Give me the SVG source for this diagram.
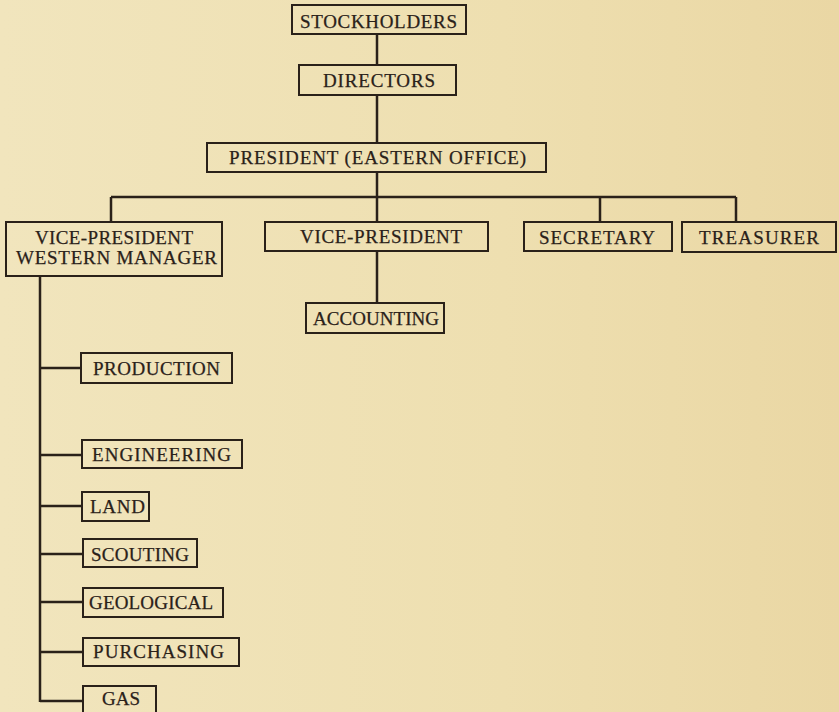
<svg xmlns="http://www.w3.org/2000/svg" width="839" height="712" viewBox="0 0 839 712">
<defs>
<linearGradient id="bg" x1="0" y1="0" x2="1" y2="0">
<stop offset="0" stop-color="#F1E5BD"/>
<stop offset="0.6" stop-color="#EEDFB0"/>
<stop offset="1" stop-color="#EAD7A4"/>
</linearGradient>
<style>
.box{fill:none;stroke:#2a2119;stroke-width:2}
.t{font-family:"Liberation Serif","Times New Roman",serif;font-size:19px;fill:#2a2119;text-anchor:start;stroke:#2a2119;stroke-width:0.25}
.c{fill:none;stroke:#2a2119;stroke-width:2.5}
</style>
</defs>
<rect width="839" height="712" fill="url(#bg)"/>
<g id="connectors">
<path class="c" d="M377 34V65M377 95V143M377 172V197M111 197H736M111 197V222M377 197V222M600 197V222M736 197V222M377 251V303"/>
<path class="c" d="M40 276V702M40 368H81M40 455H82M40 506H82M40 554H83M40 602H83M40 652H83M40 701H83"/>
</g>
<g id="stockholders"><rect class="box" x="292" y="5" width="174" height="29"/><text class="t" x="300" y="28" textLength="157" lengthAdjust="spacing">STOCKHOLDERS</text></g>
<g id="directors"><rect class="box" x="299" y="65" width="157" height="30"/><text class="t" x="323" y="87" textLength="112" lengthAdjust="spacing">DIRECTORS</text></g>
<g id="president"><rect class="box" x="207" y="143" width="339" height="29"/><text class="t" x="229" y="164" textLength="297" lengthAdjust="spacing">PRESIDENT (EASTERN OFFICE)</text></g>
<g id="vp-western"><rect class="box" x="6" y="222" width="216" height="54"/><text class="t" x="35" y="244" textLength="158" lengthAdjust="spacing">VICE-PRESIDENT</text><text class="t" x="16" y="264" textLength="201" lengthAdjust="spacing">WESTERN MANAGER</text></g>
<g id="vp"><rect class="box" x="265" y="222" width="223" height="29"/><text class="t" x="300" y="243" textLength="162" lengthAdjust="spacing">VICE-PRESIDENT</text></g>
<g id="secretary"><rect class="box" x="524" y="222" width="148" height="29"/><text class="t" x="539" y="244" textLength="116" lengthAdjust="spacing">SECRETARY</text></g>
<g id="treasurer"><rect class="box" x="682" y="222" width="154" height="30"/><text class="t" x="699" y="244" textLength="120" lengthAdjust="spacing">TREASURER</text></g>
<g id="accounting"><rect class="box" x="306" y="303" width="138" height="30"/><text class="t" x="313" y="325" textLength="126" lengthAdjust="spacing">ACCOUNTING</text></g>
<g id="production"><rect class="box" x="81" y="353" width="151" height="30"/><text class="t" x="93" y="375" textLength="127" lengthAdjust="spacing">PRODUCTION</text></g>
<g id="engineering"><rect class="box" x="82" y="440" width="160" height="28"/><text class="t" x="92" y="461" textLength="139" lengthAdjust="spacing">ENGINEERING</text></g>
<g id="land"><rect class="box" x="82" y="492" width="67" height="29"/><text class="t" x="90" y="513" textLength="55" lengthAdjust="spacing">LAND</text></g>
<g id="scouting"><rect class="box" x="83" y="539" width="114" height="28"/><text class="t" x="91" y="561" textLength="98" lengthAdjust="spacing">SCOUTING</text></g>
<g id="geological"><rect class="box" x="83" y="588" width="140" height="29"/><text class="t" x="89" y="609" textLength="124" lengthAdjust="spacing">GEOLOGICAL</text></g>
<g id="purchasing"><rect class="box" x="83" y="638" width="156" height="28"/><text class="t" x="93" y="658" textLength="131" lengthAdjust="spacing">PURCHASING</text></g>
<g id="gas"><rect class="box" x="83" y="686" width="73" height="30"/><text class="t" x="102" y="705" textLength="38" lengthAdjust="spacing">GAS</text></g>
</svg>
